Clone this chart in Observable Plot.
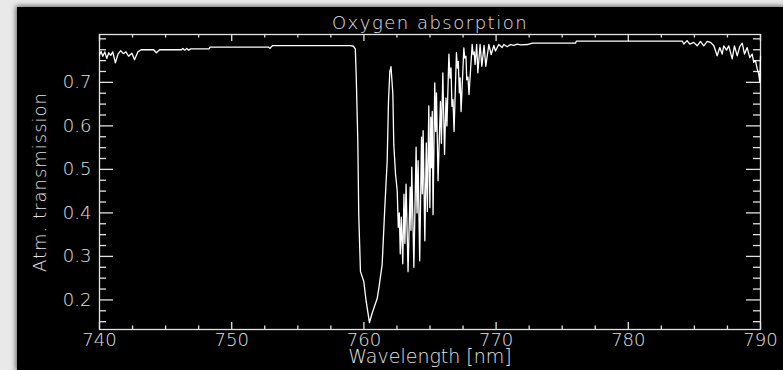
<!DOCTYPE html>
<html><head><meta charset="utf-8">
<script src="https://cdn.jsdelivr.net/npm/d3@7"></script>
<script src="https://cdn.jsdelivr.net/npm/@observablehq/plot@0.6"></script>
<style>
html,body{margin:0;padding:0;background:#e9e9e9;width:783px;height:370px;overflow:hidden;}
#panel{position:absolute;left:17px;top:7px;width:766px;height:363px;background:#000;box-shadow:0 0 5px 1px rgba(0,0,0,0.6);}
#chart{position:absolute;left:0;top:0;}
</style></head><body><div id="panel"></div><div id="chart"></div>
<script>
const wavelength = [
740.00,740.12,740.25,740.40,740.55,740.70,740.85,741.00,741.20,741.40,741.60,741.80,742.00,742.20,742.45,742.65,742.90,743.15,
744.10,744.30,744.55,746.20,746.30,746.45,746.60,746.75,746.90,748.30,748.35,752.80,752.90,753.00,753.10,759.00,759.20,759.35,
759.42,759.54,759.61,759.74,759.99,760.17,760.42,760.63,761.01,761.13,761.38,761.58,761.76,761.86,761.96,762.05,762.19,762.26,762.39,762.52,
762.60,762.68,762.75,762.83,762.94,763.03,763.10,763.19,763.34,763.50,763.56,763.62,763.78,763.95,764.02,764.10,764.22,
764.36,764.42,764.48,764.61,764.72,764.80,764.91,764.99,765.06,765.11,765.17,765.23,765.36,765.43,765.49,765.61,
765.79,765.86,765.97,766.10,766.21,766.28,766.43,766.51,766.59,766.66,766.74,766.82,767.00,767.08,767.14,767.22,
767.28,767.35,767.56,767.63,767.72,767.78,767.87,767.95,768.19,768.26,768.34,768.41,768.53,768.62,768.79,768.92,
769.09,769.22,769.45,769.63,769.83,769.95,770.20,770.46,
770.58,770.84,771.09,771.34,771.60,771.85,772.37,772.75,776.00,776.08,784.08,
784.20,784.45,784.65,784.95,785.21,785.46,785.71,785.97,786.22,786.47,786.72,786.92,787.10,787.22,787.43,787.60,787.86,788.03,
788.24,788.43,788.62,788.79,788.99,789.19,789.37,789.49,789.62,789.75,789.87,789.95,790.00
];
const transmission = [
0.763,0.771,0.760,0.770,0.755,0.768,0.762,0.770,0.745,0.765,0.773,0.766,0.770,0.760,0.767,0.752,0.770,0.775,
0.775,0.768,0.775,0.775,0.778,0.774,0.778,0.774,0.777,0.777,0.781,0.781,0.778,0.782,0.7845,0.7845,0.783,0.777,
0.714,0.564,0.396,0.265,0.243,0.197,0.148,0.170,0.204,0.227,0.281,0.411,0.518,0.656,0.725,0.736,0.673,0.558,0.490,0.451,
0.367,0.400,0.306,0.390,0.283,0.443,0.330,0.466,0.265,0.459,0.360,0.505,0.275,0.551,0.400,0.520,0.290,
0.574,0.444,0.589,0.336,0.561,0.403,0.646,0.412,0.620,0.504,0.633,0.396,0.699,0.587,0.676,0.474,
0.656,0.560,0.722,0.534,0.664,0.600,0.765,0.710,0.733,0.645,0.660,0.587,0.768,0.733,0.748,0.676,
0.710,0.633,0.779,0.756,0.760,0.706,0.712,0.672,0.787,0.764,0.770,0.741,0.787,0.722,0.787,0.737,
0.785,0.737,0.787,0.764,0.785,0.772,0.787,0.780,
0.787,0.782,0.787,0.785,0.788,0.786,0.787,0.790,0.790,0.795,0.795,
0.788,0.796,0.788,0.792,0.784,0.794,0.784,0.794,0.792,0.784,0.761,0.780,0.765,0.784,0.774,0.784,0.754,0.784,
0.761,0.782,0.790,0.765,0.780,0.757,0.765,0.746,0.750,0.731,0.719,0.700,0.760
];
const xMajorTicks = [740, 750, 760, 770, 780, 790];
const xMinorTicks = [742.5, 745, 747.5, 752.5, 755, 757.5, 762.5, 765, 767.5, 772.5, 775, 777.5, 782.5, 785, 787.5];
const yMajorTicks = [0.2, 0.3, 0.4, 0.5, 0.6, 0.7];
const yMinorTicks = [0.15, 0.175, 0.225, 0.25, 0.275, 0.325, 0.35, 0.375, 0.425, 0.45, 0.475, 0.525, 0.55, 0.575, 0.625, 0.65, 0.675, 0.725, 0.75, 0.775, 0.8];
const titleText = "Oxygen absorption";
const xLabelText = "Wavelength [nm]";
const yLabelText = "Atm. transmission";
const xDomain = [740, 790];
const yDomain = [0.132, 0.81];

const W = 783, H = 370, mL = 99, mR = 23, mT = 34, mB = 41;
const fw = W - mL - mR, fh = H - mT - mB;
const data = wavelength.map((w, i) => ({w, t: transmission[i]}));
const ink = "#e2e2e2";
const sw = 1.3;

const plot = Plot.plot({
  width: W, height: H,
  marginLeft: mL, marginRight: mR, marginTop: mT, marginBottom: mB,
  x: {domain: xDomain},
  y: {domain: yDomain},
  style: {background: "transparent", color: ink, fontFamily: "'DejaVu Sans', sans-serif", fontSize: "18px", fontWeight: 200},
  marks: [
    Plot.frame({stroke: ink, strokeWidth: sw}),
    Plot.ruleX(xMajorTicks, {x: d => d, insetTop: fh - 7, stroke: ink, strokeWidth: sw}),
    Plot.ruleX(xMinorTicks, {x: d => d, insetTop: fh - 3.5, stroke: ink, strokeWidth: sw}),
    Plot.ruleX(xMajorTicks, {x: d => d, insetBottom: fh - 7, stroke: ink, strokeWidth: sw}),
    Plot.ruleX(xMinorTicks, {x: d => d, insetBottom: fh - 3.5, stroke: ink, strokeWidth: sw}),
    Plot.ruleY(yMajorTicks, {y: d => d, insetRight: fw - 14, stroke: ink, strokeWidth: sw}),
    Plot.ruleY(yMinorTicks, {y: d => d, insetRight: fw - 7, stroke: ink, strokeWidth: sw}),
    Plot.ruleY(yMajorTicks, {y: d => d, insetLeft: fw - 14, stroke: ink, strokeWidth: sw}),
    Plot.ruleY(yMinorTicks, {y: d => d, insetLeft: fw - 7, stroke: ink, strokeWidth: sw}),
    Plot.line(data, {x: "w", y: "t", stroke: "#ffffff", strokeWidth: 1.3}),
    Plot.axisX(xMajorTicks, {anchor: "bottom", tickSize: 0, tickPadding: 4, label: null, fill: ink}),
    Plot.axisY(yMajorTicks, {anchor: "left", tickSize: 0, tickPadding: 8, tickFormat: d3.format(".1f"), label: null, fill: ink}),
    Plot.text([titleText], {text: d => d, frameAnchor: "top", lineAnchor: "bottom", dy: -6, fill: ink, fontSize: 18}),
    Plot.text([xLabelText], {text: d => d, frameAnchor: "bottom", lineAnchor: "bottom", dy: 33, fill: ink, fontSize: 19}),
    Plot.text([yLabelText], {text: d => d, frameAnchor: "left", textAnchor: "middle", lineAnchor: "bottom", rotate: -90, dx: -54, fill: ink, fontSize: 18})
  ]
});
d3.select(plot).selectAll("text").each(function() {
  const t = this.textContent;
  if (t === titleText) d3.select(this).style("letter-spacing", "1.5px");
  if (t === yLabelText) d3.select(this).style("letter-spacing", "1px");
});
document.getElementById("chart").appendChild(plot);
</script>
</body></html>
